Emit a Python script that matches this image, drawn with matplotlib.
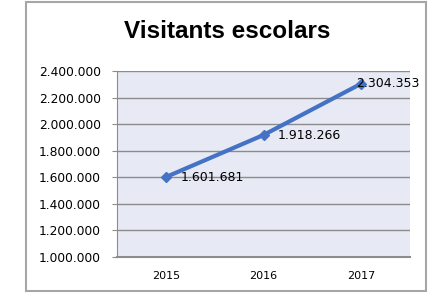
import matplotlib.pyplot as plt
from matplotlib.patches import Rectangle
from matplotlib.ticker import FuncFormatter

years = ['2015', '2016', '2017']
visitors = [1601681, 1918266, 2304353]
y_ticks = [1000000, 1200000, 1400000, 1600000, 1800000, 2000000, 2200000, 2400000]
label_dx = [0.15, 0.15, -0.05]

plt.rcParams['font.family'] = ['DejaVu Sans']

def dotted(v, pos=None):
    return f'{int(v):,}'.replace(',', '.')

fig = plt.figure(figsize=(4.28, 2.95), dpi=100)
W, H = 428, 295
# outer chart border
fig.patches.append(Rectangle((26 / W, 1 - 291 / H), 400 / W, 289 / H, transform=fig.transFigure,
                             fill=False, edgecolor='#a6a6a6', linewidth=1.5))

ax = fig.add_axes([117 / W, 1 - 257 / H, 293 / W, 186 / H])
ax.set_facecolor('#e7eaf5')

x = range(len(years))
ax.plot(x, visitors, color='#4472c4', linewidth=3, marker='D', markersize=5, zorder=3)
for i, v in enumerate(visitors):
    ax.text(i + label_dx[i], v, dotted(v), fontsize=9, va='center', ha='left',
            clip_on=False, zorder=4)

ax.set_xlim(-0.5, 2.5)
ax.set_ylim(1000000, 2400000)
ax.set_yticks(y_ticks)
ax.yaxis.set_major_formatter(FuncFormatter(dotted))
ax.set_xticks(list(x))
ax.set_xticklabels(years)
ax.grid(axis='y', color='#8c8c8c', linewidth=1)
ax.set_axisbelow(True)
for s in ['top', 'right']:
    ax.spines[s].set_visible(False)
ax.spines['left'].set_color('#8c8c8c')
ax.spines['bottom'].set_color('#8c8c8c')
ax.spines['bottom'].set_linewidth(1.5)
ax.tick_params(axis='y', labelsize=8.8, length=3.6, color='#8c8c8c', pad=8)
ax.tick_params(axis='x', labelsize=8, length=0, pad=10)

fig.text(227 / W, 1 - 31 / H, 'Visitants escolars', fontsize=17.5, fontweight='bold',
         family='Liberation Sans', ha='center', va='center')

fig.savefig('out.png', dpi=100)
